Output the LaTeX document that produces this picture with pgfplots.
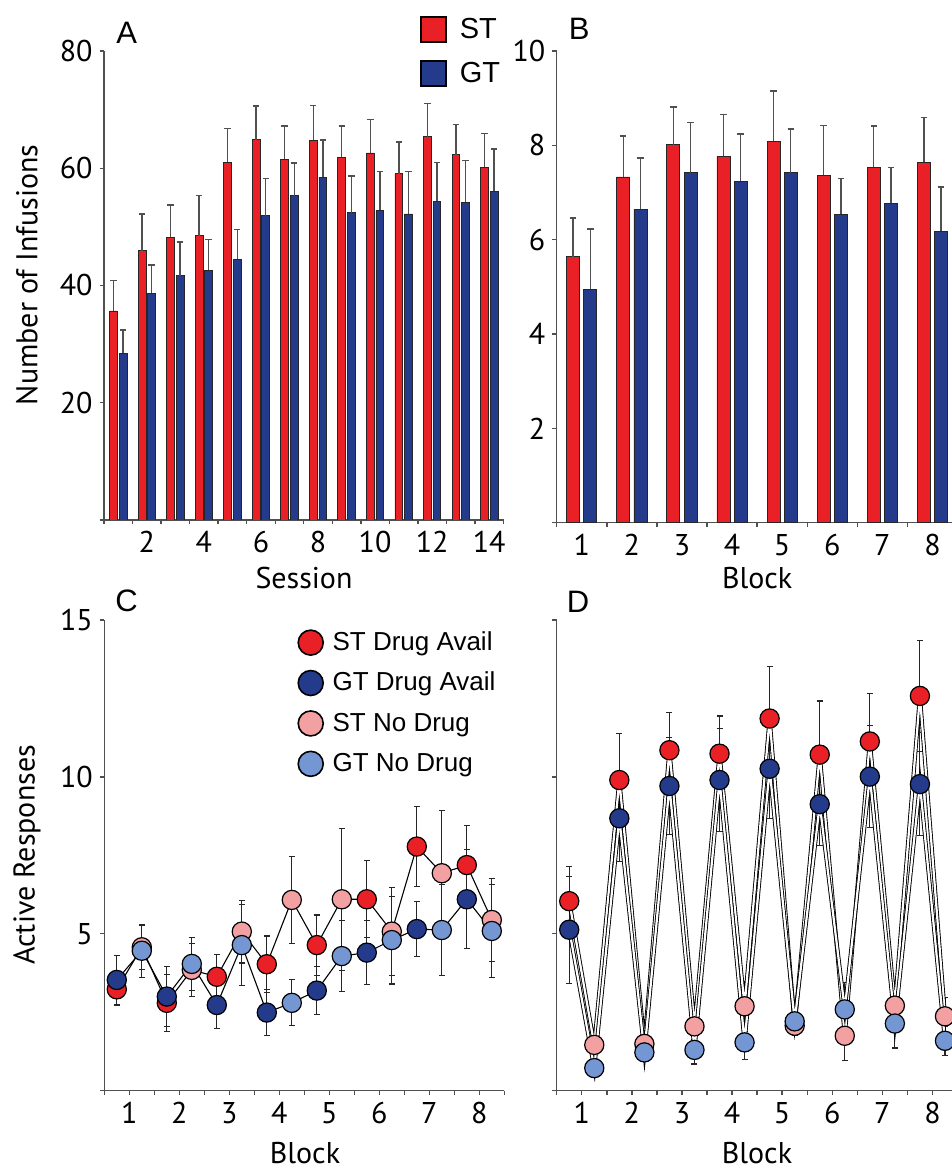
\documentclass[border=0pt]{standalone}
\usepackage{pgfplots}
\pgfplotsset{compat=1.18}
\usepackage{pgfplotstable}
\usepackage{fontspec}
\setmainfont{PT Sans}
\newfontfamily\arialfont{Liberation Sans}

\definecolor{stred}{RGB}{234,32,39}
\definecolor{gtblue}{RGB}{36,58,138}
\definecolor{stpink}{RGB}{242,160,162}
\definecolor{gtlight}{RGB}{116,150,210}
\definecolor{axgray}{RGB}{80,80,80}

\pgfplotstableread{
s ST STe GT GTe
1 35.65 5.25 28.4 4.0
2 45.9 6.3 38.7 4.8
3 48.2 5.5 41.7 5.7
4 48.5 6.8 42.6 5.2
5 61.0 5.8 44.5 5.1
6 64.9 5.7 51.9 6.3
7 61.5 5.7 55.3 5.6
8 64.8 5.9 58.5 6.3
9 61.9 5.3 52.4 6.3
10 62.6 5.7 52.8 6.6
11 59.1 5.4 52.2 7.2
12 65.4 5.6 54.4 6.6
13 62.3 5.2 54.2 7.1
14 60.2 5.7 56.1 7.2
}\tabA

\pgfplotstableread{
b ST STe GT GTe
1 5.64 0.82 4.95 1.28
2 7.33 0.87 6.64 1.09
3 8.01 0.80 7.42 1.06
4 7.77 0.88 7.24 1.00
5 8.09 1.06 7.42 0.93
6 7.37 1.05 6.54 0.76
7 7.53 0.88 6.77 0.76
8 7.64 0.95 6.18 0.94
}\tabB

% x = block-0.25 : drug available ; x = block+0.25 : no drug
\pgfplotstableread{
x ST STe GT GTe
0.75 3.23 0.50 3.53 0.78
1.25 4.57 0.70 4.46 0.85
1.75 2.80 0.90 3.00 0.95
2.25 3.85 0.85 4.04 0.85
2.75 3.63 0.70 2.73 0.76
3.25 5.07 1.00 4.64 1.30
3.75 4.03 0.90 2.49 0.74
4.25 6.08 1.38 2.80 0.73
4.75 4.64 0.96 3.19 0.76
5.25 6.10 2.26 4.29 1.14
5.75 6.10 1.23 4.40 1.03
6.25 5.07 1.40 4.80 1.40
6.75 7.78 1.27 5.15 0.88
7.25 6.93 2.00 5.12 1.46
7.75 7.19 1.26 6.10 1.58
8.25 5.44 1.33 5.09 1.48
}\tabC

\pgfplotstableread{
x ST STe GT GTe
0.75 6.04 1.10 5.13 1.70
1.25 1.46 0.30 0.72 0.30
1.75 9.90 1.48 8.68 1.39
2.25 1.49 0.25 1.22 0.30
2.75 10.85 1.20 9.71 1.55
3.25 2.05 0.43 1.30 0.45
3.75 10.74 1.20 9.90 1.63
4.25 2.69 0.80 1.54 0.56
4.75 11.86 1.66 10.26 1.60
5.25 2.07 0.30 2.21 0.30
5.75 10.71 1.71 9.13 1.31
6.25 1.75 0.80 2.59 0.85
6.75 11.13 1.52 10.01 1.63
7.25 2.71 0.60 2.14 0.78
7.75 12.58 1.76 9.77 1.65
8.25 2.37 0.60 1.59 0.47
}\tabD

\pgfplotsset{
  panel/.style={
    scale only axis, anchor=south west,
    axis lines*=left,
    axis line style={axgray, line width=0.7pt},
    tick align=outside,
    major tick length=2.2pt, minor tick length=2.2pt,
    every tick/.style={axgray, line width=0.7pt},
    /pgf/number format/assume math mode=true,
    tick label style={font=\fontsize{15}{15}\selectfont},
  },
  sqleg/.style={legend image code/.code={\draw[fill=#1, draw=black, line width=0.9pt] (0pt,-6.25pt) rectangle (12.5pt,6.25pt);}},
  cirleg/.style={legend image code/.code={\draw[fill=#1, draw=black, line width=0.8pt] (6.25pt,0pt) circle[radius=6.25pt];}},
  barerr/.style={forget plot, draw=none, mark=none,
     error bars/.cd, y dir=plus, y explicit, error mark=|,
     error bar style={draw=axgray, line width=0.7pt},
     error mark options={draw=axgray, line width=0.7pt, mark size=1.6pt}},
  pterr/.style={forget plot, draw=none, mark=none,
     error bars/.cd, y dir=both, y explicit, error mark=|,
     error bar style={draw=black!85, line width=0.55pt},
     error mark options={draw=black!85, line width=0.55pt, mark size=1.5pt}},
  ptmark/.style={forget plot, only marks, mark=*, mark size=4.8pt, draw=black, line width=0.6pt, fill=#1},
  drugpts/.style={x filter/.expression={mod(round(4*x),4)==3 ? x : nan}},
  nodrugpts/.style={x filter/.expression={mod(round(4*x),4)==1 ? x : nan}},
}

\begin{document}
\begin{tikzpicture}
\useasboundingbox (0,0) rectangle (475.5pt,585pt);

% ---------------- Panel A ----------------
\begin{axis}[panel, at={(52pt,325pt)}, width=199.75pt, height=234.5pt,
  xmin=0.5, xmax=14.5, ymin=0, ymax=80,
  ytick={0,20,40,60,80}, yticklabels={,20,40,60,80},
  xtick={2,4,...,14}, minor xtick={0.5,1.5,...,14.5},
  major x tick style={draw=none},
  legend style={at={(0.79,1.075)}, anchor=north west, draw=none, fill=none,
     inner sep=0pt, row sep=8.5pt,
     font=\arialfont\fontsize{14.5}{14.5}\selectfont,
     nodes={inner sep=0pt},
     /tikz/every odd column/.append style={column sep=6.5pt}},
  legend cell align=left,
]
\addplot[forget plot, ybar, bar width=3.9pt, bar shift=-2.4pt, fill=stred, draw=black!85, line width=0.4pt]
  table[x=s, y=ST] {\tabA};
\addplot[forget plot, ybar, bar width=3.9pt, bar shift=2.4pt, fill=gtblue, draw=black!85, line width=0.4pt]
  table[x=s, y=GT] {\tabA};
\addplot[barerr] table[x expr=\thisrow{s}-0.168, y=ST, y error=STe] {\tabA};
\addplot[barerr] table[x expr=\thisrow{s}+0.168, y=GT, y error=GTe] {\tabA};
\addlegendimage{sqleg=stred}
\addlegendentry{ST}
\addlegendimage{sqleg=gtblue}
\addlegendentry{GT}
\end{axis}

% ---------------- Panel B ----------------
\begin{axis}[panel, at={(278.35pt,323.65pt)}, width=200.4pt, height=235.85pt,
  xmin=0.5, xmax=8.5, ymin=0, ymax=10,
  ytick={0,2,...,10}, yticklabels={,2,4,6,8,10},
  xtick={1,...,8}, minor xtick={0.5,1.5,...,8.5},
  major x tick style={draw=none},
]
\addplot[forget plot, ybar, bar width=6.5pt, bar shift=-4.3pt, fill=stred, draw=black!85, line width=0.4pt]
  table[x=b, y=ST] {\tabB};
\addplot[forget plot, ybar, bar width=6.5pt, bar shift=4.3pt, fill=gtblue, draw=black!85, line width=0.4pt]
  table[x=b, y=GT] {\tabB};
\addplot[barerr] table[x expr=\thisrow{b}-0.172, y=ST, y error=STe] {\tabB};
\addplot[barerr] table[x expr=\thisrow{b}+0.172, y=GT, y error=GTe] {\tabB};
\end{axis}

% ---------------- Panel C ----------------
\begin{axis}[panel, at={(52.15pt,39.65pt)}, width=200pt, height=235.35pt,
  xmin=0.5, xmax=8.5, ymin=0, ymax=15,
  ytick={0,5,10,15}, yticklabels={,5,10,15},
  xtick={1,...,8}, minor xtick={0.5,1.5,...,8.5},
  legend style={at={(0.4818,0.981)}, anchor=north west, draw=none, fill=none,
     inner sep=0pt, row sep=6.9pt,
     font=\arialfont\fontsize{13}{13}\selectfont,
     nodes={inner sep=0pt},
     /tikz/every odd column/.append style={column sep=4.3pt}},
  legend cell align=left,
]
\addplot[pterr] table[x=x, y=ST, y error=STe] {\tabC};
\addplot[pterr] table[x=x, y=GT, y error=GTe] {\tabC};
\addplot[forget plot, black, line width=0.55pt, mark=none] table[x=x, y=ST] {\tabC};
\addplot[forget plot, black, line width=0.55pt, mark=none] table[x=x, y=GT] {\tabC};
\addplot[ptmark=stred, drugpts] table[x=x, y=ST] {\tabC};
\addplot[ptmark=stpink, nodrugpts] table[x=x, y=ST] {\tabC};
\addplot[ptmark=gtblue, drugpts] table[x=x, y=GT] {\tabC};
\addplot[ptmark=gtlight, nodrugpts] table[x=x, y=GT] {\tabC};
\addlegendimage{cirleg=stred}
\addlegendentry{ST Drug Avail}
\addlegendimage{cirleg=gtblue}
\addlegendentry{GT Drug Avail}
\addlegendimage{cirleg=stpink}
\addlegendentry{ST No Drug}
\addlegendimage{cirleg=gtlight}
\addlegendentry{GT No Drug}
\end{axis}

% ---------------- Panel D ----------------
\begin{axis}[panel, at={(278.35pt,39.65pt)}, width=200.4pt, height=235.35pt,
  xmin=0.5, xmax=8.5, ymin=0, ymax=15,
  ytick={0,5,10,15}, yticklabels={,,,},
  xtick={1,...,8}, minor xtick={0.5,1.5,...,8.5},
]
\addplot[pterr] table[x=x, y=ST, y error=STe] {\tabD};
\addplot[pterr] table[x=x, y=GT, y error=GTe] {\tabD};
\addplot[forget plot, black, line width=0.45pt, double=white, double distance=1.1pt, mark=none] table[x=x, y=ST] {\tabD};
\addplot[forget plot, black, line width=0.45pt, double=white, double distance=1.1pt, mark=none] table[x=x, y=GT] {\tabD};
\addplot[ptmark=stred, drugpts] table[x=x, y=ST] {\tabD};
\addplot[ptmark=stpink, nodrugpts] table[x=x, y=ST] {\tabD};
\addplot[ptmark=gtblue, drugpts] table[x=x, y=GT] {\tabD};
\addplot[ptmark=gtlight, nodrugpts] table[x=x, y=GT] {\tabD};
\end{axis}

% ---------------- Labels ----------------
\begin{scope}[every node/.style={inner sep=0pt}]
\node[font=\arialfont\fontsize{15.5}{15.5}\selectfont, anchor=base] at (63.3pt,563pt) {A};
\node[font=\arialfont\fontsize{15.5}{15.5}\selectfont, anchor=base] at (289.6pt,565.3pt) {B};
\node[font=\arialfont\fontsize{15.5}{15.5}\selectfont, anchor=base] at (63.3pt,279pt) {C};
\node[font=\arialfont\fontsize{15.5}{15.5}\selectfont, anchor=base] at (289pt,278.5pt) {D};
\node[font=\fontsize{15}{15}\selectfont, anchor=base] at (152pt,290.85pt) {Session};
\node[font=\fontsize{15}{15}\selectfont, anchor=base] at (378.6pt,290.85pt) {Block};
\node[font=\fontsize{15}{15}\selectfont, anchor=base] at (152.5pt,3.2pt) {Block};
\node[font=\fontsize{15}{15}\selectfont, anchor=base] at (378.5pt,3.2pt) {Block};
\node[font=\fontsize{15}{15}\selectfont, rotate=90] at (13.5pt,447.5pt) {Number of Infusions};
\node[font=\fontsize{15}{15}\selectfont, rotate=90] at (13.5pt,157.5pt) {Active Responses};
\end{scope}
\end{tikzpicture}
\end{document}
